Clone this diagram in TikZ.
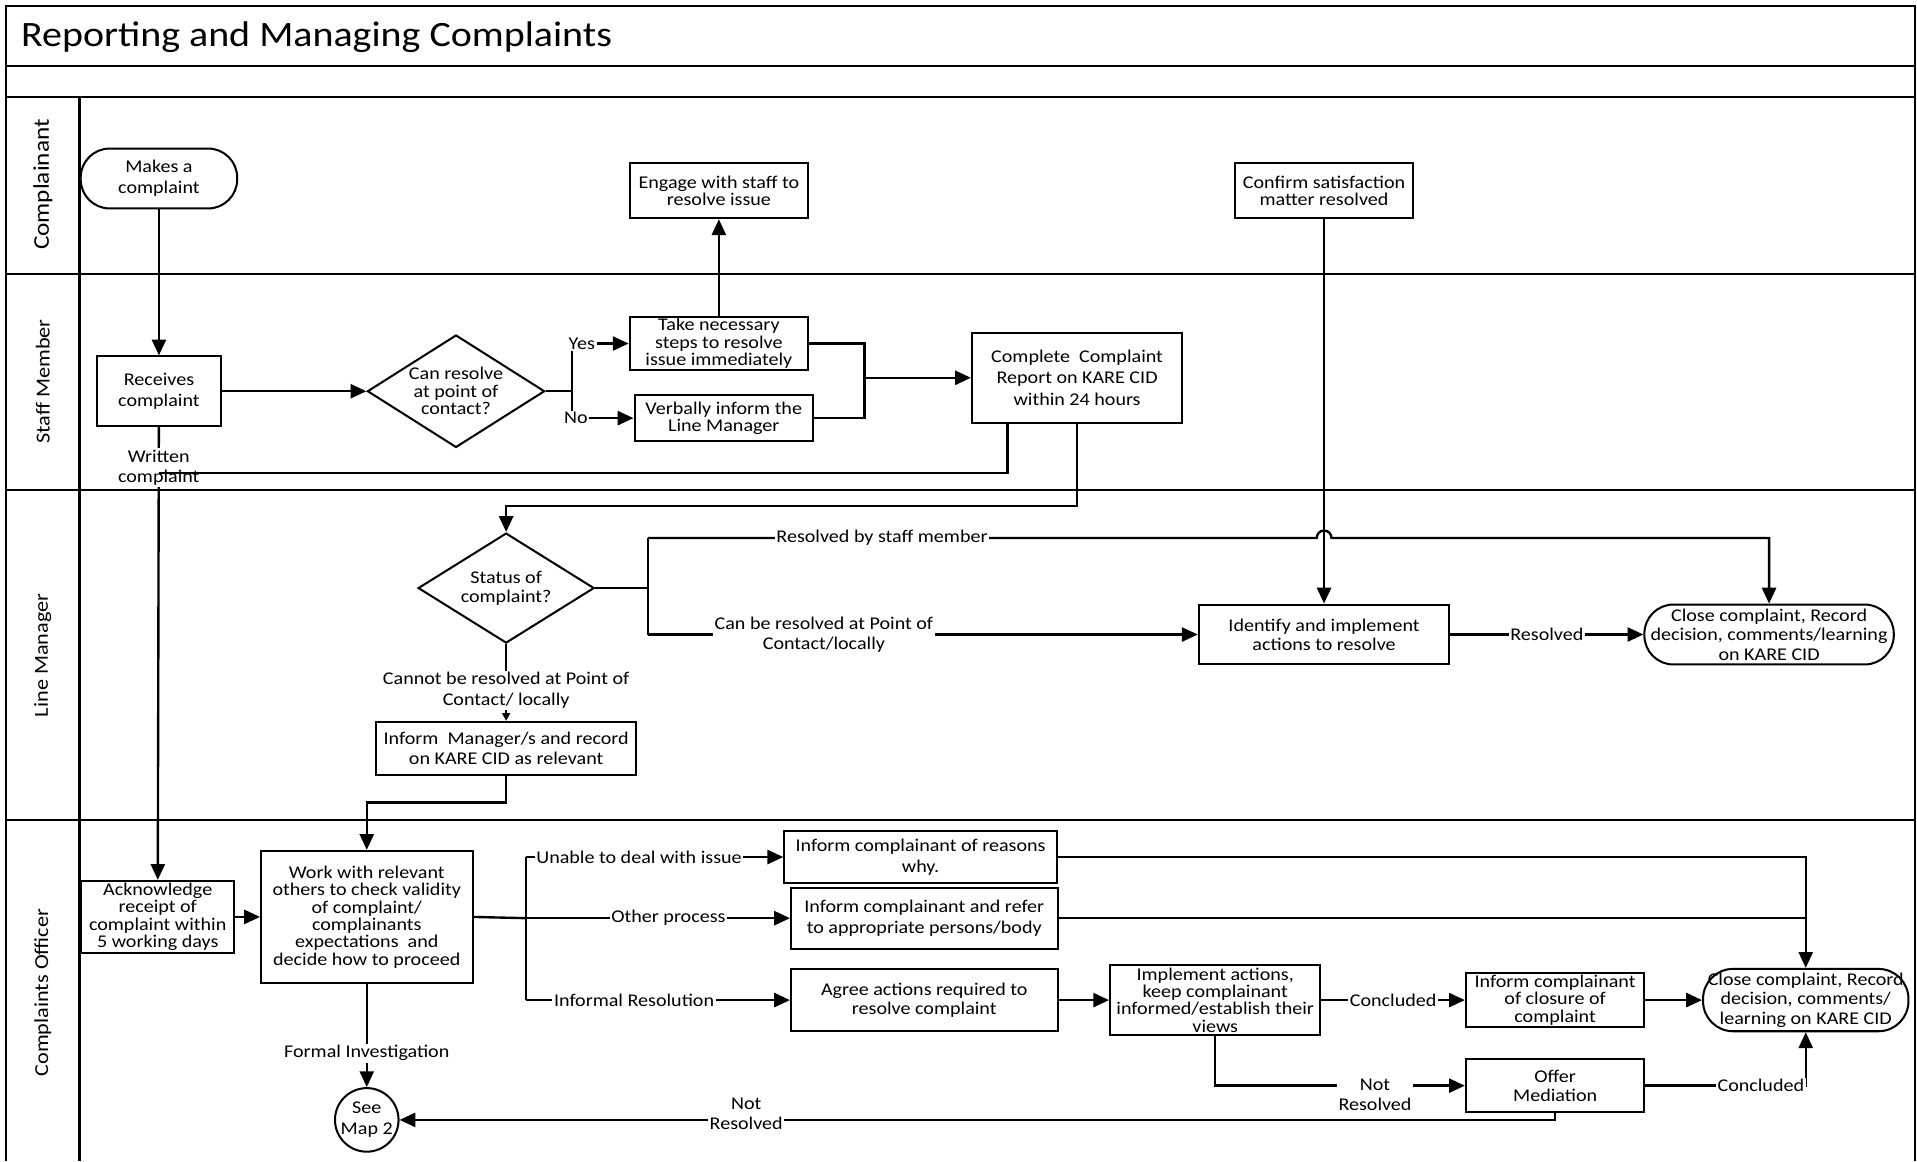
\documentclass[tikz,border=0pt]{standalone}
\usepackage{fontspec}
\setmainfont{Carlito}[FakeStretch=1.12]
\usetikzlibrary{positioning}
\usetikzlibrary{arrows.meta}
\usetikzlibrary{shapes.geometric, shapes.misc}
\usetikzlibrary{calc}

\newcommand{\pxu}{0.02445cm}
\newcommand{\nfont}{\fontsize{10.2}{12}\selectfont}
\newcommand{\mfont}{\fontsize{10.2}{11}\selectfont}
\newcommand{\dfont}{\fontsize{10.2}{9.9}\selectfont}

\begin{document}
\begin{tikzpicture}[x=\pxu, y=-\pxu,
% Box styles
    process/.style={rectangle,draw,line width=1.15pt,align=center,inner sep=1pt,font=\nfont},
    terminal/.style={rectangle,rounded corners=0.58cm,draw,line width=1.15pt,align=center,
		inner sep=1pt,font=\nfont},
    decision/.style={diamond,draw,line width=1.15pt,inner sep=0pt},
    dtext/.style={align=center,inner sep=0pt,font=\dfont},
    onpage/.style={circle,draw,line width=1.15pt,align=center,inner sep=0pt,font=\nfont},
% Lane style
    lane/.style={line width=1.2pt},
    lanename/.style={rotate=90,font={\fontsize{11.3}{13}\selectfont}},
% Connector and label style
    link/.style={line width=1.35pt},
    flow/.style={line width=1.35pt,-{Triangle[length=9pt,width=8pt]}},
    lbl/.style={fill=white,inner sep=1pt,align=center,font={\fontsize{10.2}{11.5}\selectfont}}
    ]
  \useasboundingbox (0,0) rectangle (1568,950);

  % frame and swim lanes
  \draw[lane] (5,950) -- (5,5) -- (1566,5) -- (1566,950);
  \foreach \y in {54,79,224,401,671}
    \draw[lane] (5,\y) -- (1566,\y);
  \draw[lane] (65,79) -- (65,950);

  \node (title) [anchor=west,inner sep=0pt,font={\fontsize{20.3}{22}\selectfont}] at (17,30)
    {Reporting and Managing Complaints};
  \node (lcomp) [lanename,font={\fontsize{12.8}{14}\selectfont}] at (35,151) {Complainant};
  \node (lstaff) [lanename] at (35,312) {Staff Member};
  \node (lline) [lanename] at (35,536) {Line Manager};
  \node (loff) [lanename] at (35,812) {Complaints Officer};

  % Complainant
  \node (make) [terminal,minimum width={128*\pxu},minimum height={49*\pxu}] at (130,146)
    {Makes a\\complaint};
  \node (engage) [process,font=\dfont,minimum width={146*\pxu},minimum height={45*\pxu}] at (588,156)
    {Engage with staff to\\resolve issue};
  \node (confirm) [process,font=\dfont,minimum width={146*\pxu},minimum height={45*\pxu}] at (1083,156)
    {Confirm satisfaction\\matter resolved};

  % Staff Member
  \node (receive) [process,minimum width={102*\pxu},minimum height={57*\pxu}] at (130,320)
    {Receives\\complaint};
  \node (canresolve) [decision,minimum width={145*\pxu},minimum height={92*\pxu},
    label={[dtext]center:{Can resolve\\at point of\\contact?}}] at (373,320) {};
  \node (takesteps) [process,font=\dfont,minimum width={146*\pxu},minimum height={43*\pxu}] at (588,281)
    {Take necessary\\steps to resolve\\issue immediately};
  \node (verbally) [process,font=\dfont,minimum width={146*\pxu},minimum height={38*\pxu}] at (592,342)
    {Verbally inform the\\Line Manager};
  \node (complete) [process,minimum width={172*\pxu},minimum height={74*\pxu}] at (881,309)
    {Complete~ Complaint\\Report on KARE CID\\within 24 hours};

  % Line Manager
  \node (status) [decision,minimum width={144*\pxu},minimum height={90*\pxu},
    label={[dtext,font={\fontsize{10.2}{10.8}\selectfont}]center:{Status of\\complaint?}}] at (414,481) {};
  \node (informmgr) [process,font=\mfont,minimum width={213*\pxu},minimum height={43*\pxu}] at (414,612)
    {Inform~ Manager/s and record\\on KARE CID as relevant};
  \node (identify) [process,font=\mfont,minimum width={205*\pxu},minimum height={49*\pxu}] at (1083,519)
    {Identify and implement\\actions to resolve};
  \node (close1) [terminal,font=\mfont,minimum width={204*\pxu},minimum height={49*\pxu}] at (1447,519)
    {Close complaint, Record\\decision, comments/learning\\on KARE CID};

  % Complaints Officer
  \node (acknowledge) [process,font=\dfont,minimum width={125*\pxu},minimum height={59*\pxu}] at (129,750)
    {Acknowledge\\receipt of\\complaint within\\5 working days};
  \node (work) [process,font=\dfont,minimum width={173*\pxu},minimum height={108*\pxu}] at (300,750)
    {Work with relevant\\others to check validity\\of complaint/\\complainants\\expectations~ and\\decide how to proceed};
  \node (reasons) [process,minimum width={223*\pxu},minimum height={42*\pxu}] at (753,701)
    {Inform complainant of reasons\\why.};
  \node (refer) [process,minimum width={218*\pxu},minimum height={50*\pxu}] at (756,751)
    {Inform complainant and refer\\to appropriate persons/body};
  \node (agree) [process,font=\mfont,minimum width={218*\pxu},minimum height={51*\pxu}] at (756,818)
    {Agree actions required to\\resolve complaint};
  \node (implement) [process,font=\dfont,minimum width={172*\pxu},minimum height={57*\pxu}] at (994,818)
    {Implement actions,\\keep complainant\\informed/establish their\\views};
  \node (closure) [process,font=\dfont,minimum width={146*\pxu},minimum height={43*\pxu}] at (1272,818)
    {Inform complainant\\of closure of\\complaint};
  \node (offer) [process,font=\mfont,minimum width={146*\pxu},minimum height={43*\pxu}] at (1272,888)
    {Offer\\Mediation};
  \node (close2) [terminal,rounded corners=0.6cm,font=\mfont,minimum width={168*\pxu},minimum height={51*\pxu}]
    at (1477,818) {Close complaint, Record\\decision, comments/\\learning on KARE CID};
  \node (map2) [onpage,minimum size={52*\pxu}] at (300,916) {See\\Map 2};

  % staff member flows
  \draw[flow] (make) -- (receive);
  \draw[flow] (receive) -- (canresolve);
  \coordinate (split1) at (468,320);
  \coordinate (yesend) at (468,281);
  \coordinate (noend) at (468,342);
  \draw[link] (canresolve.east) -- (split1);
  \draw[link] (yesend) -- (noend);
  \draw[flow] (yesend) -- node[lbl,pos=0.17] {Yes} (takesteps.west);
  \draw[flow] (noend) -- node[lbl,pos=0.06] {No} (verbally.west);
  \draw[flow] (takesteps) -- (engage);
  \coordinate (join1) at (707,309);
  \draw[link] (takesteps.east) -| (join1);
  \draw[link] (verbally.east) -| (join1);
  \draw[flow] (join1) -- (complete.west);

  % written complaint goes straight to the officer
  \draw[flow] (receive) -- node[lbl,pos=0.09] {Written\\complaint} (acknowledge);
  \coordinate (wjoin) at (130,387);
  \draw[link] ($(complete.south west)+(30,0)$) |- (wjoin);

  % line manager flows
  \draw[flow] (complete.south) -- ++(0,67) -| (status.north);
  \coordinate (split2) at (530,481);
  \coordinate (stafftop) at (530,440);
  \coordinate (localbot) at (530,519);
  \draw[link] (status.east) -- (split2);
  \draw[link] (stafftop) -- (localbot);
  \draw[flow] (stafftop) -- node[lbl,pos=0.35] {Resolved by staff member}
    ($(confirm.south |- stafftop)+(-6,0)$) arc[start angle=180,end angle=0,radius=4.2pt]
    -| (close1.north);
  \draw[flow] (localbot) -- node[lbl,pos=0.32] {Can be resolved at Point of\\Contact/locally} (identify.west);
  \draw[flow] (confirm) -- (identify);
  \draw[flow] (identify) -- node[lbl] {Resolved} (close1);
  \draw[line width=1.35pt,-{Triangle[length=4.5pt,width=4.5pt]}] (status) --
    node[lbl,pos=0.6] {Cannot be resolved at Point of\\Contact/ locally} (informmgr);
  \draw[flow] (informmgr.south) -- ++(0,22) -| (work.north);

  % complaints officer flows
  \draw[flow] (acknowledge) -- (work);
  \coordinate (split3) at (430,751);
  \coordinate (unabletop) at (430,701);
  \coordinate (informbot) at (430,818);
  \draw[link] (work.east) -- (split3);
  \draw[link] (unabletop) -- (informbot);
  \draw[flow] (unabletop) -- node[lbl,pos=0.44] {Unable to deal with issue} (reasons.west);
  \draw[flow] (split3) -- node[lbl,pos=0.54] {Other process} (refer.west);
  \draw[flow] (informbot) -- node[lbl,pos=0.41] {Informal Resolution} (agree.west);
  \draw[flow] (reasons.east) -| (close2.north);
  \draw[link] (refer.east) -- (refer.east -| close2.north);
  \draw[flow] (agree) -- (implement);
  \draw[flow] (implement) -- node[lbl] {Concluded} (closure);
  \draw[flow] (closure) -- (close2);
  \draw[flow] (implement.south) |- node[lbl,pos=0.82,yshift=-5pt] {Not\\Resolved} (offer.west);
  \draw[flow] (offer.east) -| node[lbl,pos=0.36] {Concluded} (close2.south);
  \draw[flow] (offer.south) |- node[lbl,pos=0.85,yshift=3.5pt] {Not\\Resolved} (map2.east);
  \draw[flow] (work) -- node[lbl,pos=0.67] {Formal Investigation} (map2);

\end{tikzpicture}
\end{document}
